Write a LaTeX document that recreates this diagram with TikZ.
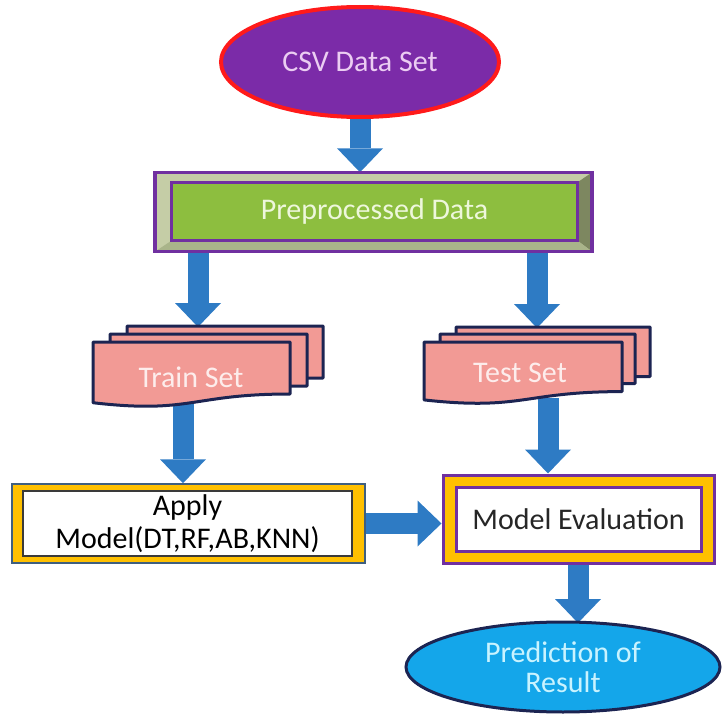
\documentclass[tikz,border=0pt]{standalone}
\usepackage{fontspec}
\setmainfont{Carlito}
\usetikzlibrary{shapes.geometric,arrows.meta,calc}
\pgfdeclarelayer{background}
\pgfsetlayers{background,main}
\definecolor{csvpurple}{HTML}{7B2BA8}
\definecolor{csvred}{HTML}{FF1A1A}
\definecolor{csvtext}{HTML}{EBCDF2}
\definecolor{arrowblue}{HTML}{2E7BC4}
\definecolor{facegreen}{HTML}{8DBE3F}
\definecolor{facetext}{HTML}{EEF7DC}
\definecolor{bevlight}{HTML}{C5CDA6}
\definecolor{bevdark}{HTML}{7D8760}
\definecolor{bevbottom}{HTML}{A9B48A}
\definecolor{prepurple}{HTML}{7030A0}
\definecolor{docpink}{HTML}{F29A95}
\definecolor{navy}{HTML}{1C2452}
\definecolor{doctextc}{HTML}{FDEDEC}
\definecolor{gold}{HTML}{FFC000}
\definecolor{applyedge}{HTML}{3F5F7F}
\definecolor{innergray}{HTML}{3A3A3A}
\definecolor{predblue}{HTML}{14A6EA}
\definecolor{predtext}{HTML}{C9F3FF}
\newcommand\fs{\fontsize{30}{33}\selectfont}
\newcommand\mydoc[4]{\filldraw[docstyle] (#1,#2) -- ({#1+#3},#2) -- ({#1+#3},{#2+0.80*#4}) .. controls ({#1+0.5*#3},{#2+0.80*#4}) and ({#1+0.5*#3},{#2+1.11*#4}) .. (#1,{#2+0.934*#4}) -- cycle;}
\begin{document}
\begin{tikzpicture}[x=1pt,y=-1pt,
  blk/.style={draw=arrowblue, line width=21pt, -{Triangle[width=46pt,length=24pt,line width=0pt]}},
  docstyle/.style={fill=docpink, draw=navy, line width=3pt, line join=round},
  doctext/.style={text=doctextc, font=\fs},
  every node/.style={font=\fs}]
\useasboundingbox (0,0) rectangle (724,717);
% CSV ellipse
\node[ellipse, draw=csvred, line width=4pt, fill=csvpurple, minimum width=278pt, minimum height=110pt, text=csvtext] (csv) at (360,62) {CSV Data Set};
% Preprocessed bevel box
\node[fill=bevlight, minimum width=437pt, minimum height=79pt, inner sep=0pt] (pre) at (373.5,212) {};
\node[fill=facegreen, draw=prepurple, line width=2pt, minimum width=405pt, minimum height=57pt, text=facetext] (face) at (374.5,211.5) {Preprocessed Data};
\begin{pgfonlayer}{background}
\fill[bevlight] (pre.north west) rectangle (pre.south east);
\end{pgfonlayer}
\fill[bevdark] (pre.north east) -- (pre.south east) -- (face.south east) -- (face.north east) -- cycle;
\fill[bevbottom] (pre.south west) -- (pre.south east) -- (face.south east) -- (face.south west) -- cycle;
\draw[prepurple, line width=2pt] (face.north west) rectangle (face.south east);
\draw[prepurple, line width=3.5pt] (pre.north west) rectangle (pre.south east);
% Train set documents
\mydoc{127}{326}{196}{65}
\mydoc{110}{334}{197}{65}
\mydoc{93}{342}{197}{65}
\node[doctext] (train) at (191,377) {Train Set};
% Test set documents
\mydoc{456}{327}{194}{62}
\mydoc{440}{334}{195}{62}
\mydoc{424}{342}{198}{62}
\node[doctext] (test) at (520,373) {Test Set};
% Apply box
\node[draw=applyedge, line width=1.5pt, fill=gold, minimum width=353pt, minimum height=79pt] (apply) at (188.5,523.5) {};
\node[draw=innergray, line width=2pt, fill=white, minimum width=329pt, minimum height=57pt, align=center, text=black] (applyin) at (187.5,523.5) {Apply\\Model(DT,RF,AB,KNN)};
% Eval box
\node[draw=prepurple, line width=3pt, fill=gold, minimum width=271pt, minimum height=88pt] (eval) at (578.5,519) {};
\node[draw=prepurple, line width=3pt, fill=white, minimum width=245pt, minimum height=64pt, text=black!85] (evalin) at (578.5,519) {Model Evaluation};
% Prediction ellipse
\node[ellipse, fill=predblue, draw=navy, line width=3pt, minimum width=314pt, minimum height=90pt, text=predtext, align=center, font=\fontsize{30}{30}\selectfont] (pred) at (563,667) {Prediction of\\Result};
% connectors
\coordinate (traintop) at (198,327);
\coordinate (testtop) at (537,328);
\coordinate (trainbot) at (183,400);
\coordinate (testbot) at (548,398);
\coordinate (predtip) at (578,623);
\begin{pgfonlayer}{background}
\draw[blk] (csv.south) -- (csv.south |- pre.north);
\draw[blk] (pre.south -| traintop) -- (traintop);
\draw[blk] (pre.south -| testtop) -- (testtop);
\draw[blk] (trainbot) -- (apply.north -| trainbot);
\draw[blk] (testbot) -- (eval.north -| testbot);
\draw[blk] (apply.east) -- (eval.west |- apply.east);
\draw[blk] (eval.south -| predtip) -- (predtip);
\end{pgfonlayer}
\end{tikzpicture}
\end{document}
